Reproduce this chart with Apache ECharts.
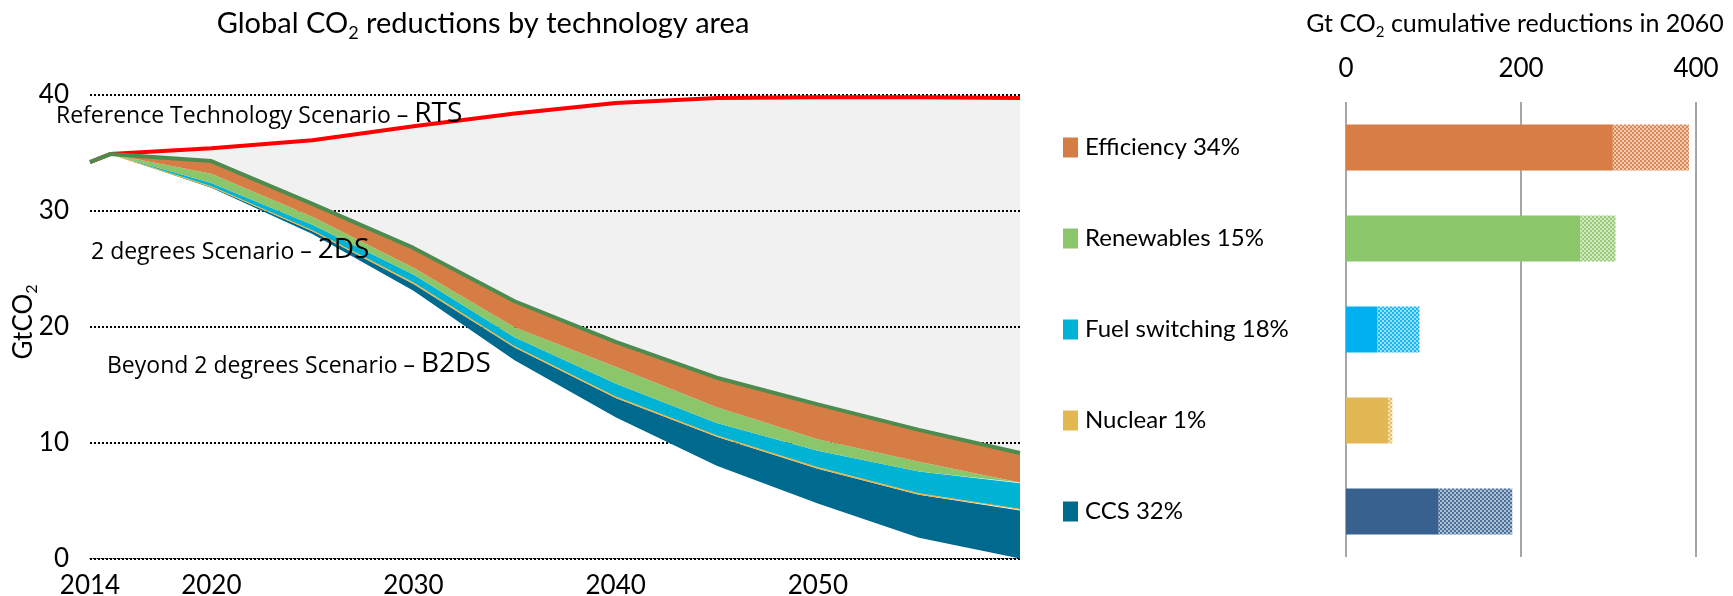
<!DOCTYPE html>
<html>
<head>
<meta charset="utf-8">
<title>Global CO2 reductions</title>
<script src="https://cdn.jsdelivr.net/npm/echarts@6/dist/echarts.min.js"></script>
<style>
  html, body { margin: 0; padding: 0; background: #fff; }
  #main { width: 1733px; height: 596px; }
</style>
</head>
<body>
<div id="main"></div>
<script>
// emissions trajectories (GtCO2), boundaries of each band
const years      = [2014, 2015, 2020, 2025, 2030, 2035, 2040, 2045, 2050, 2055, 2060];
const b2ds       = [34.2, 34.9, 32.0,  28.0,  23.1, 17.1,  12.2,  8.0,   4.75, 1.8,  0.0];
const ccsTop     = [34.2, 34.9, 32.05, 28.25, 23.7, 18.2,  13.85, 10.5,  7.75, 5.5,  4.15];
const nuclearTop = [34.2, 34.9, 32.1,  28.3,  23.8, 18.3,  13.95, 10.6,  7.85, 5.6,  4.25];
const fuelTop    = [34.2, 34.9, 32.4,  28.8,  24.5, 19.1,  15.1,  11.7,  9.3,  7.5,  6.5];
const renewTop   = [34.2, 34.9, 33.2,  29.5,  25.1, 19.95, 16.55, 13.05, 10.3, 8.35, 6.55];
const twoDS      = [34.2, 34.9, 34.3,  30.6,  26.8, 22.2,  18.7,  15.6,  13.3, 11.1, 9.1];
const rts        = [34.2, 34.9, 35.4,  36.1,  37.3, 38.4,  39.3,  39.75, 39.8, 39.8, 39.75];
const yearLabels = [2014, 2020, 2030, 2040, 2050];

// cumulative reductions in 2060 (Gt CO2)
const techs      = ['Efficiency 34%', 'Renewables 15%', 'Fuel switching 18%', 'Nuclear 1%', 'CCS 32%'];
const cumSolid   = [305, 268, 36, 48, 106];
const cumHatched = [87, 40, 48, 5, 84];

const areaColors = ['#D67D45', '#8CC66A', '#00B2D3', '#E3B853', '#006A8E'];
const barColors  = ['#D77D46', '#8CC66A', '#00B0F0', '#E3B854', '#386190'];

const calib = 'Lato, sans-serif';
const segoe = '"Open Sans", sans-serif';

function pts(arr) {
    return years.map((y, i) => [y, arr[i]]);
}
// value first, year second: with two value axes echarts stacks the first numeric dimension
function band(top, bottom) {
    return years.map((y, i) => [+(top[i] - bottom[i]).toFixed(3), y]);
}
// checkered dots for the hatched part of the bars
function dots(color) {
    const c = document.createElement('canvas');
    c.width = 4; c.height = 4;
    const ctx = c.getContext('2d');
    ctx.fillStyle = '#fff';
    ctx.fillRect(0, 0, 4, 4);
    ctx.fillStyle = color;
    ctx.globalAlpha = 0.4;
    ctx.fillRect(0, 0, 4, 4);
    ctx.globalAlpha = 0.85;
    ctx.fillRect(0, 0, 2, 2);
    ctx.fillRect(2, 2, 2, 2);
    return { image: c, repeat: 'repeat' };
}
function area(name, data, color, line) {
    return {
        name: name, type: 'line', stack: 'em', data: data,
        encode: { x: 1, y: 0 },
        xAxisIndex: 0, yAxisIndex: 0, symbol: 'none', silent: true,
        lineStyle: line ? { width: 1, color: color } : { opacity: 0 },
        areaStyle: line === 'none' ? null : { color: color, opacity: 1 }
    };
}
function scenarioLabel(x, y, small, big) {
    return {
        type: 'text', x: x, y: y, z: 10,
        style: {
            text: '{a|' + small + '}{b|' + big + '}',
            verticalAlign: 'middle',
            rich: {
                a: { fontFamily: segoe, fontSize: 23, fill: '#000', verticalAlign: 'bottom' },
                b: { fontFamily: segoe, fontSize: 28, fill: '#000', verticalAlign: 'bottom' }
            }
        }
    };
}

const chart = echarts.init(document.getElementById('main'));

const rich = { t: { fontFamily: calib, fontSize: 24, color: '#000', padding: [0, 0, 0, 7] } };
areaColors.forEach((c, i) => {
    rich['q' + i] = { backgroundColor: c, width: 15, height: 20 };
});

const base = area('B2DS', years.map((y, i) => [b2ds[i], y]), '#fff', 'none');
base.lineStyle = { opacity: 0 };

chart.setOption({
    animation: false,
    grid: [
        { left: 90, right: 713, top: 95, bottom: 37.5, outerBoundsMode: 'none' },
        { left: 1346, right: 37, top: 102, bottom: 39, outerBoundsMode: 'none' }
    ],
    xAxis: [
        {
            type: 'value', gridIndex: 0, min: 2014, max: 2060,
            axisLine: { show: true, onZero: false, lineStyle: { color: '#000', width: 1, type: [2, 2], dashOffset: 1 } },
            axisTick: { show: false },
            splitLine: { show: false },
            axisLabel: {
                customValues: yearLabels,
                formatter: v => String(v),
                fontFamily: calib, fontSize: 26, color: '#000', margin: 14
            }
        },
        {
            type: 'value', gridIndex: 1, position: 'top', min: 0, max: 400, interval: 200,
            axisLine: { show: false },
            axisTick: { show: false },
            splitLine: { lineStyle: { color: '#A6A6A6', width: 2 } },
            axisLabel: { fontFamily: calib, fontSize: 26, color: '#000', margin: 20 }
        }
    ],
    yAxis: [
        {
            type: 'value', gridIndex: 0, min: 0, max: 40, interval: 10,
            axisLine: { show: false },
            axisTick: { show: false },
            splitLine: { lineStyle: { color: '#000', width: 2, type: [2, 2] } },
            axisLabel: { fontFamily: calib, fontSize: 26, color: '#000', margin: 21 }
        },
        {
            type: 'category', gridIndex: 1, inverse: true, data: techs,
            axisLine: { show: false },
            axisTick: { show: false },
            axisLabel: {
                align: 'left', margin: 283,
                formatter: (v, i) => '{q' + i + '|}{t|' + v + '}',
                rich: rich
            }
        }
    ],
    graphic: [
        {
            type: 'text', x: 483, y: 24,
            style: {
                text: '{a|Global CO}{s|2}{a| reductions by technology area}',
                align: 'center', verticalAlign: 'middle',
                rich: {
                    a: { fontFamily: calib, fontSize: 29, fill: '#000', lineHeight: 36 },
                    s: { fontFamily: calib, fontSize: 18, fill: '#000', lineHeight: 18, verticalAlign: 'bottom' }
                }
            }
        },
        {
            type: 'text', x: 1515, y: 24,
            style: {
                text: '{a|Gt CO}{s|2}{a| cumulative reductions in 2060}',
                align: 'center', verticalAlign: 'middle',
                rich: {
                    a: { fontFamily: calib, fontSize: 25, fill: '#000', lineHeight: 31 },
                    s: { fontFamily: calib, fontSize: 15, fill: '#000', lineHeight: 15, verticalAlign: 'bottom' }
                }
            }
        },
        // y axis name
        {
            type: 'text', x: 24, y: 322, rotation: Math.PI / 2,
            style: {
                text: '{a|GtCO}{s|2}',
                align: 'center', verticalAlign: 'middle',
                rich: {
                    a: { fontFamily: calib, fontSize: 26, fill: '#000', lineHeight: 32 },
                    s: { fontFamily: calib, fontSize: 16, fill: '#000', lineHeight: 16, verticalAlign: 'bottom' }
                }
            }
        },
        scenarioLabel(56, 114, 'Reference Technology Scenario – ', 'RTS'),
        scenarioLabel(91, 250, '2 degrees Scenario – ', '2DS'),
        scenarioLabel(107, 364, 'Beyond 2 degrees Scenario – ', 'B2DS')
    ],
    series: [
        base,
        area('CCS', band(ccsTop, b2ds), areaColors[4]),
        area('Nuclear', band(nuclearTop, ccsTop), areaColors[3], true),
        area('Fuel switching', band(fuelTop, nuclearTop), areaColors[2]),
        area('Renewables', band(renewTop, fuelTop), areaColors[1]),
        area('Efficiency', band(twoDS, renewTop), areaColors[0]),
        area('RTS gap', band(rts, twoDS), 'rgba(0,0,0,0.055)'),
        {
            name: 'RTS', type: 'line', data: pts(rts), z: 5,
            xAxisIndex: 0, yAxisIndex: 0, symbol: 'none', silent: true,
            lineStyle: { color: '#FF0000', width: 4 }
        },
        {
            name: '2DS', type: 'line', data: pts(twoDS), z: 6,
            xAxisIndex: 0, yAxisIndex: 0, symbol: 'none', silent: true,
            lineStyle: { color: '#4E8B4F', width: 4 }
        },
        {
            name: 'cumulative', type: 'bar', stack: 'cum', barWidth: 46,
            xAxisIndex: 1, yAxisIndex: 1, silent: true,
            data: cumSolid.map((v, i) => ({ value: v, itemStyle: { color: barColors[i] } }))
        },
        {
            name: 'extra', type: 'bar', stack: 'cum', barWidth: 46,
            xAxisIndex: 1, yAxisIndex: 1, silent: true,
            data: cumHatched.map((v, i) => ({ value: v, itemStyle: { color: dots(barColors[i]) } }))
        }
    ]
});
</script>
</body>
</html>
